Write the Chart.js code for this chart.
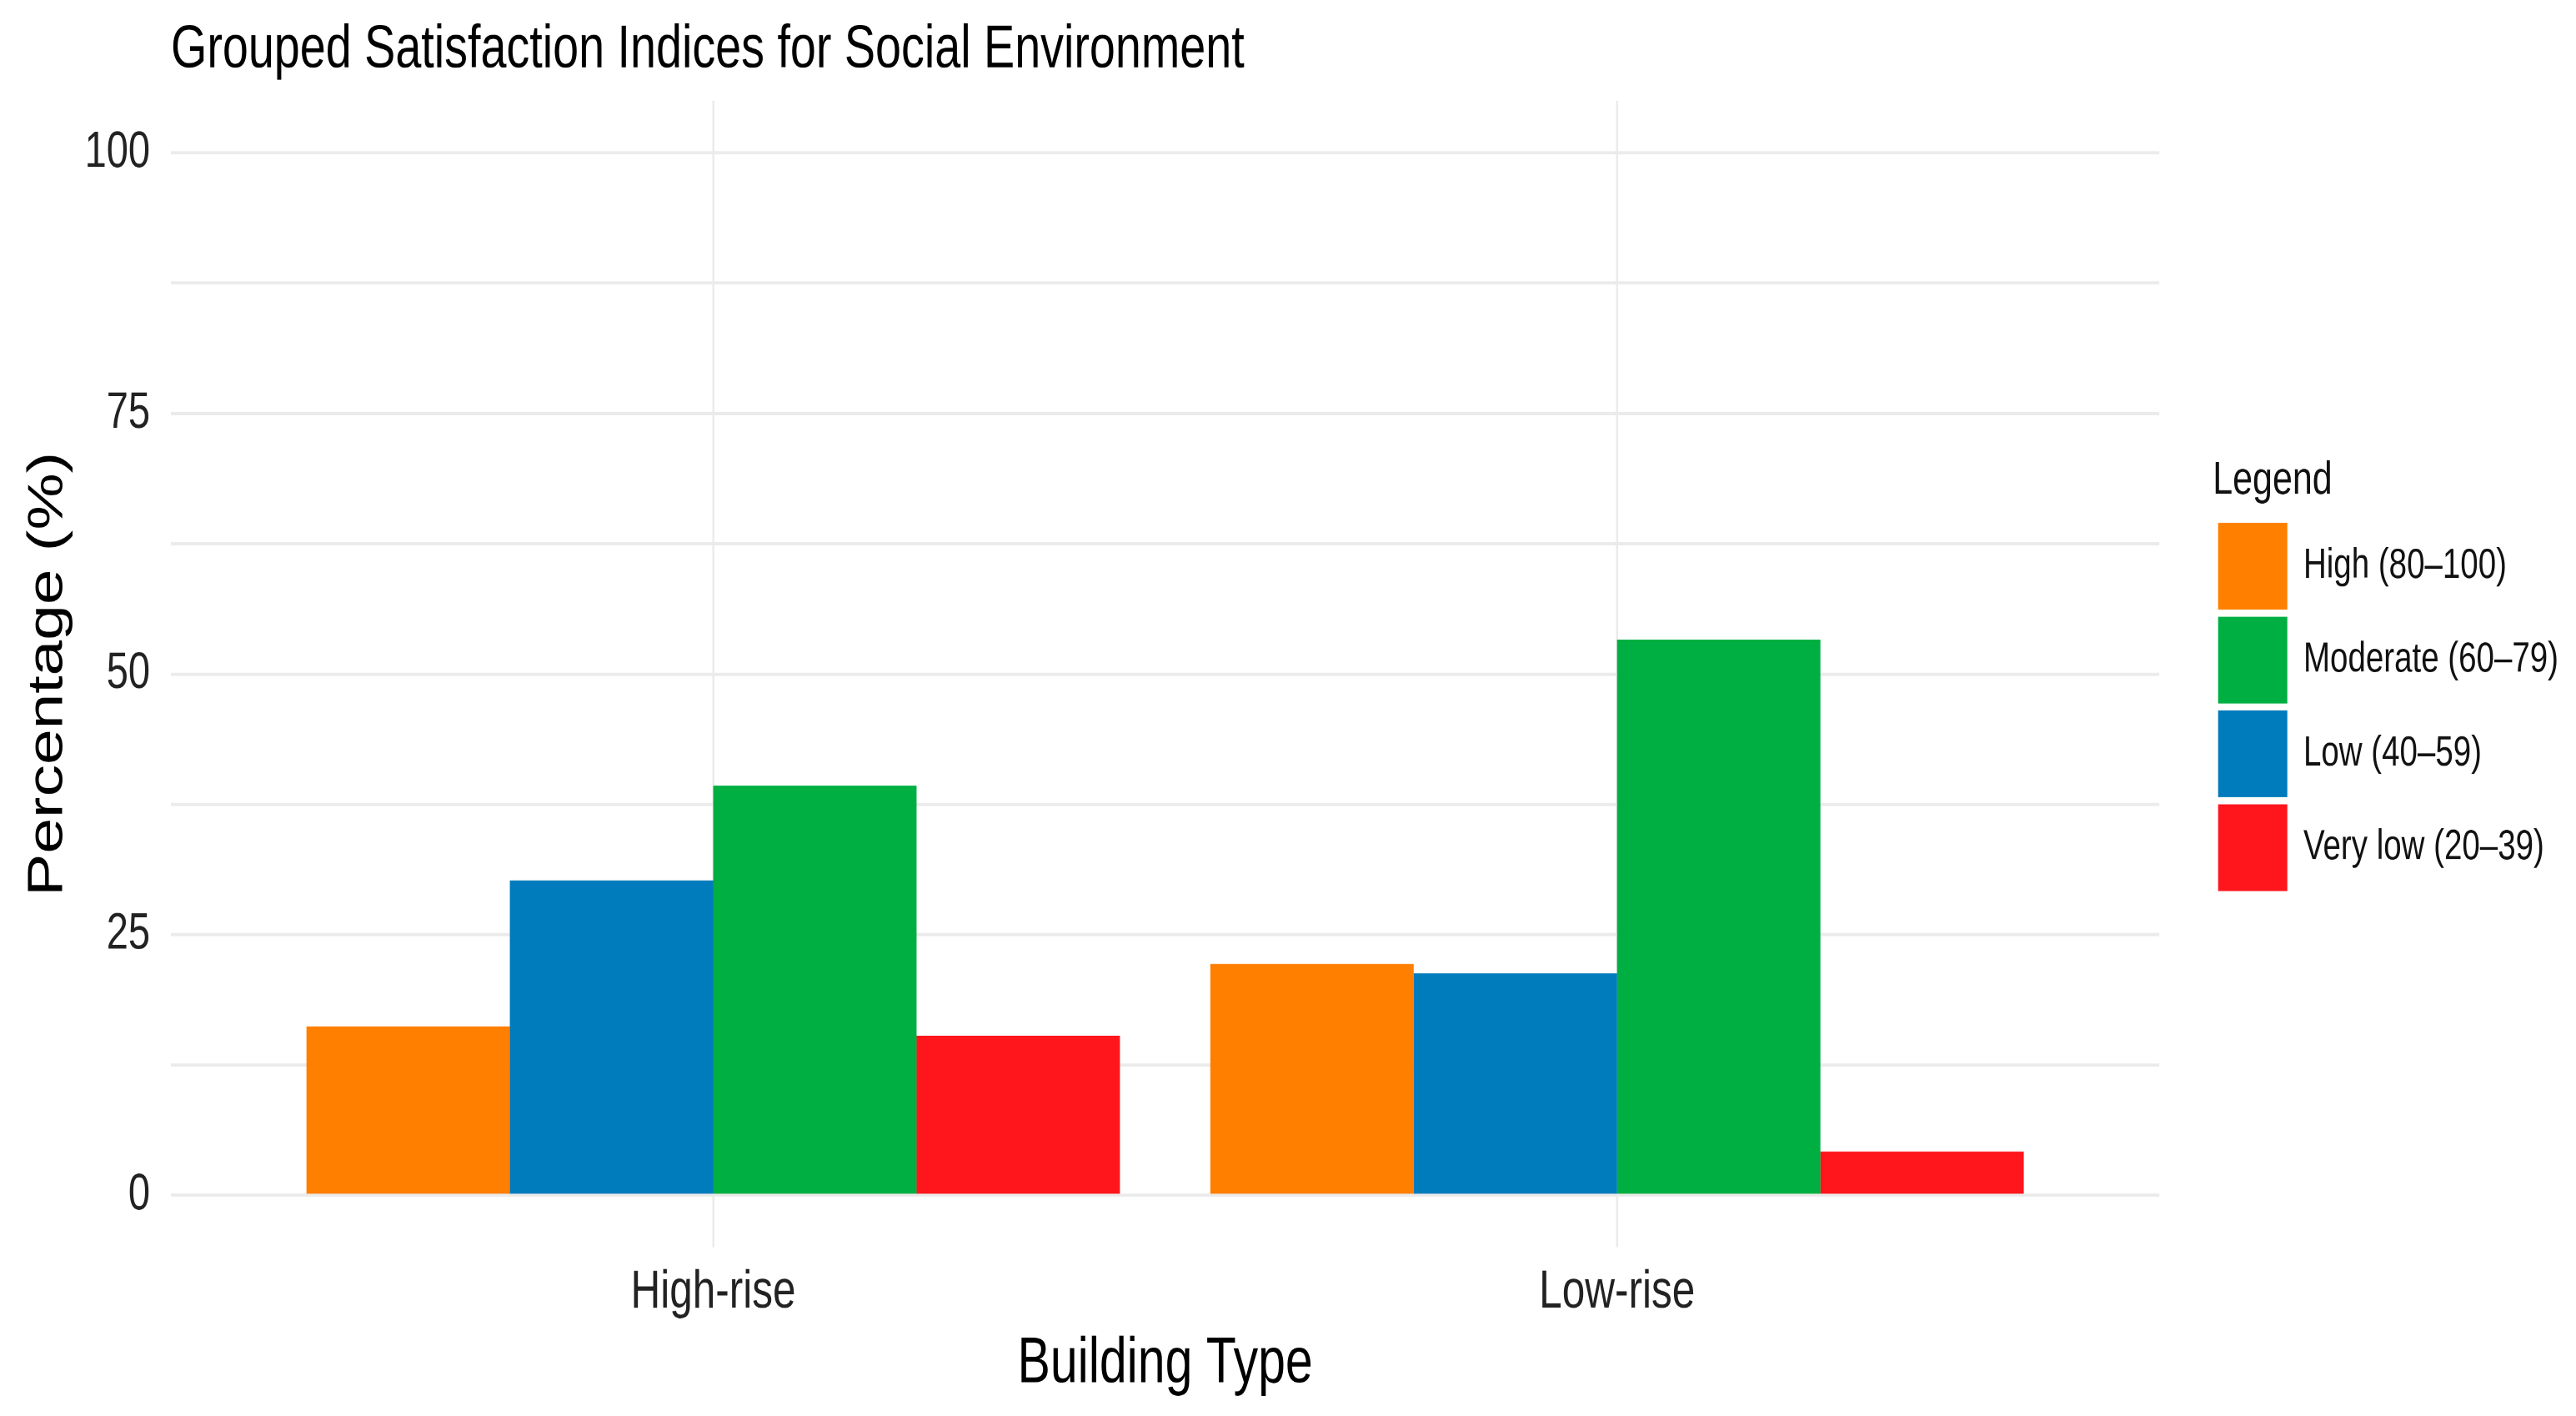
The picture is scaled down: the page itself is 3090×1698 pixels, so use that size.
<!DOCTYPE html>
<html lang="en">
<head>
    <meta charset="UTF-8">
    <title>Grouped Satisfaction Indices for Social Environment</title>
    <script src="https://cdn.jsdelivr.net/npm/chart.js"></script>
    <style>
        html { overflow: hidden; }
        body { margin: 0; padding: 0; background: #fff; width: 3090px; height: 1698px; }
        /* the original figure is stretched vertically, so draw flat and stretch */
        #wrap {
            width: 3090px;
            height: 1306px;
            transform: scaleY(1.3);
            transform-origin: 0 0;
        }
    </style>
</head>
<body>
    <div id="wrap"><canvas id="satChart" width="3090" height="1306"></canvas></div>

    <script>
        const buildingTypes = ["High-rise", "Low-rise"];
        const levels = ["High (80–100)", "Low (40–59)", "Moderate (60–79)", "Very low (20–39)"];
        const legendOrder = ["High (80–100)", "Moderate (60–79)", "Low (40–59)", "Very low (20–39)"];
        const highValues = [16.2, 22.2];
        const lowValues = [30.2, 21.3];
        const moderateValues = [39.3, 53.3];
        const veryLowValues = [15.3, 4.2];
        const yTicks = [0, 12.5, 25, 37.5, 50, 62.5, 75, 87.5, 100];
        const colors = ["#FF7F00", "#007BBB", "#00AF41", "#FF161C"];

        const series = [highValues, lowValues, moderateValues, veryLowValues];
        const font = "'Liberation Sans', Arial, sans-serif";
        const gridColor = "#EBEBEB";

        const datasets = series.map((vals, i) => ({
            label: levels[i],
            data: vals.map((v, j) => ({ x: j + 1, y: v })),
            backgroundColor: colors[i],
            borderWidth: 0,
            categoryPercentage: 0.9,
            barPercentage: 1.0
        }));

        new Chart(document.getElementById("satChart"), {
            type: "bar",
            data: { datasets: datasets },
            options: {
                responsive: false,
                animation: false,
                devicePixelRatio: 2,
                layout: { padding: { left: 0, right: 11, top: 0, bottom: 2 } },
                plugins: {
                    tooltip: { enabled: false },
                    title: {
                        display: true,
                        text: "Grouped Satisfaction Indices for Social Environment",
                        align: "start",
                        fullSize: false,
                        color: "#000",
                        font: { family: font, size: 55.7, weight: "normal", lineHeight: 1.2 },
                        padding: { top: 13, bottom: 13 }
                    },
                    legend: {
                        position: "right",
                        align: "center",
                        fullSize: false,
                        title: {
                            display: true,
                            text: "Legend",
                            position: "start",
                            color: "#111",
                            font: { family: font, size: 43, lineHeight: 1.2 },
                            padding: { top: 7, bottom: 2 }
                        },
                        labels: {
                            boxWidth: 83,
                            boxHeight: 80,
                            padding: 6.5,
                            color: "#111",
                            font: { family: font, size: 38.5 },
                            sort: (a, b) => legendOrder.indexOf(a.text) - legendOrder.indexOf(b.text)
                        }
                    }
                },
                scales: {
                    x: {
                        type: "linear",
                        min: 0.4,
                        max: 2.6,
                        offset: false,
                        afterBuildTicks: (axis) => {
                            axis.ticks = buildingTypes.map((_, i) => ({ value: i + 1 }));
                        },
                        ticks: {
                            autoSkip: false,
                            padding: 11.8,
                            color: "#222",
                            font: { family: font, size: 49.5, lineHeight: 1.2 },
                            callback: (v) => buildingTypes[v - 1]
                        },
                        grid: { color: gridColor, lineWidth: 2.5, drawTicks: false, offset: false },
                        border: { display: false },
                        title: {
                            display: true,
                            text: "Building Type",
                            color: "#000",
                            font: { family: font, size: 59, lineHeight: 0.7 },
                            padding: { top: 4.6, bottom: 24.4 }
                        }
                    },
                    y: {
                        min: -5,
                        max: 105,
                        afterBuildTicks: (axis) => {
                            axis.ticks = yTicks.map(v => ({ value: v }));
                        },
                        afterFit: (axis) => { axis.width = 205; },
                        ticks: {
                            autoSkip: false,
                            padding: 25,
                            color: "#222",
                            font: { family: font, size: 47 },
                            callback: (v) => (v % 25 === 0 ? String(v) : "")
                        },
                        grid: { color: gridColor, lineWidth: 3, drawTicks: false },
                        border: { display: false },
                        title: {
                            display: true,
                            text: "Percentage (%)",
                            color: "#000",
                            font: { family: font, size: 59, lineHeight: 1.2 },
                            padding: { top: 23, bottom: 0 }
                        }
                    },
                    spacer: {
                        type: "linear",
                        position: "right",
                        display: true,
                        afterFit: (axis) => { axis.width = 64; },
                        ticks: { display: false },
                        grid: { display: false, drawTicks: false },
                        border: { display: false }
                    }
                }
            }
        });
    </script>
</body>
</html>
